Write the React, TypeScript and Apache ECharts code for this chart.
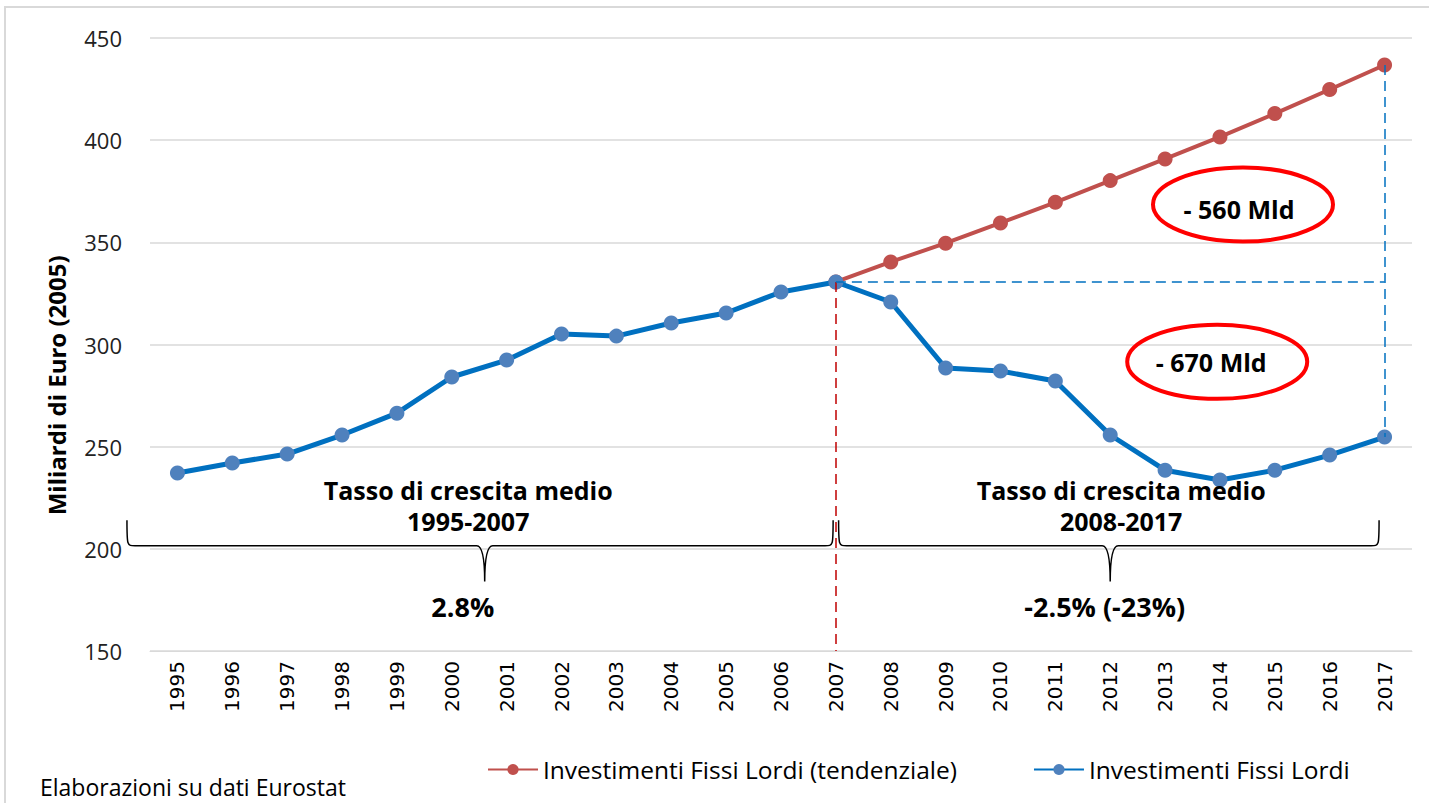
import React, { useEffect, useRef } from "react";
import * as echarts from "echarts";

const years = ["1995","1996","1997","1998","1999","2000","2001","2002","2003","2004","2005","2006","2007","2008","2009","2010","2011","2012","2013","2014","2015","2016","2017"];
const investimenti = [237.1, 242.0, 246.4, 255.7, 266.4, 284.1, 292.4, 305.1, 304.1, 310.5, 315.4, 325.7, 330.6, 320.8, 288.5, 287.0, 282.1, 255.7, 238.5, 233.7, 238.5, 245.9, 254.7];
const tendenziale = [null, null, null, null, null, null, null, null, null, null, null, null, 330.6, 340.4, 349.6, 359.5, 369.6, 380.2, 390.8, 401.6, 413.0, 424.8, 436.8];
const yTicks = { min: 150, max: 450, interval: 50 };
const seriesNames = ["Investimenti Fissi Lordi (tendenziale)", "Investimenti Fissi Lordi"];
const yAxisName = "Miliardi di Euro (2005)";
const braceTexts = [
  { title: "Tasso di crescita medio", period: "1995-2007", rate: "2.8%" },
  { title: "Tasso di crescita medio", period: "2008-2017", rate: "-2.5% (-23%)" },
];
const gapLabels = ["- 560 Mld", "- 670 Mld"];
const sourceNote = "Elaborazioni su dati Eurostat";

export default function App() {
  const ref = useRef<HTMLDivElement>(null);
  useEffect(() => {
    document.body.style.margin = "0";
    const chart = echarts.init(ref.current!, null, { renderer: "svg" });
    const i2007 = years.indexOf("2007");
    const i2017 = years.indexOf("2017");
    chart.setOption({
      animation: false,
      backgroundColor: "#ffffff",
      grid: { left: 150, right: 17, top: 38, bottom: 152, containLabel: false },
      legend: {
        left: 487,
        top: 757,
        padding: 0,
        itemWidth: 50,
        itemHeight: 14,
        itemGap: 76,
        textStyle: { fontFamily: "Open Sans", fontSize: 24.5, color: "#000" },
        data: seriesNames,
      },
      xAxis: {
        type: "category",
        data: years,
        boundaryGap: true,
        axisLine: { show: true, lineStyle: { color: "#d9d9d9", width: 1 } },
        axisTick: { show: false },
        axisLabel: { rotate: 90, margin: 10, fontFamily: "DejaVu Sans, sans-serif", fontSize: 20, color: "#000" },
      },
      yAxis: {
        type: "value",
        min: yTicks.min,
        max: yTicks.max,
        interval: yTicks.interval,
        axisLine: { show: false },
        axisTick: { show: false },
        axisLabel: { margin: 28, fontFamily: "Open Sans", fontSize: 22, color: "#222" },
        splitLine: { lineStyle: { color: "#d9d9d9", width: 1.5 } },
      },
      series: [
        {
          name: seriesNames[0],
          type: "line",
          data: tendenziale,
          symbol: "circle",
          symbolSize: 15,
          lineStyle: { color: "#c0504d", width: 4 },
          itemStyle: { color: "#c0504d" },
          z: 2,
        },
        {
          name: seriesNames[1],
          type: "line",
          data: investimenti,
          symbol: "circle",
          symbolSize: 15,
          lineStyle: { color: "#0070c0", width: 5 },
          itemStyle: { color: "#4f81bd" },
          z: 3,
          markLine: {
            silent: true,
            symbol: "none",
            label: { show: false },
            data: [
              [
                { coord: [i2007, investimenti[i2007]], lineStyle: { color: "#c00000", type: [10, 6], width: 1.5 } },
                { coord: [i2007, yTicks.min] },
              ],
              [
                { coord: [i2007, investimenti[i2007]], lineStyle: { color: "#0070c0", type: [10, 6], width: 1.5 } },
                { coord: [i2017 - 0.25, investimenti[i2007]] },
              ],
              [
                { coord: [i2017 - 0.1, tendenziale[i2017]], lineStyle: { color: "#0070c0", type: [10, 6], width: 1.5 } },
                { coord: [i2017 - 0.1, investimenti[i2017]] },
              ],
            ],
          },
        },
      ],
    });

    const px = (i: number, v: number) => {
      const p0 = chart.convertToPixel({ gridIndex: 0 }, [0, v]) as number[];
      const p1 = chart.convertToPixel({ gridIndex: 0 }, [1, v]) as number[];
      return [p0[0] + (p1[0] - p0[0]) * i, p0[1]];
    };

    const bracePath = (x0: number, xm: number, x1: number, yTop: number, yLine: number, yBot: number) => {
      const r = 8;
      return `M${x0},${yTop} C${x0},${yLine} ${x0},${yLine} ${x0 + r},${yLine} L${xm - r},${yLine} Q${xm},${yLine} ${xm},${yBot} Q${xm},${yLine} ${xm + r},${yLine} L${x1 - r},${yLine} C${x1},${yLine} ${x1},${yLine} ${x1},${yTop}`;
    };

    const yTop = px(0, 214)[1];
    const yLine = px(0, 201.5)[1];
    const yBot = px(0, 184)[1];
    const leftX0 = px(-0.92, 200)[0];
    const leftXm = px(5.6, 200)[0];
    const leftX1 = px(i2007 - 0.05, 200)[0];
    const rightX0 = px(i2007 + 0.05, 200)[0];
    const rightXm = px(17, 200)[0];
    const rightX1 = px(i2017 - 0.1, 200)[0];

    echarts.graphic.registerShape("braceLeft", echarts.graphic.extendPath(bracePath(leftX0, leftXm, leftX1, yTop, yLine, yBot), {}) as any);
    echarts.graphic.registerShape("braceRight", echarts.graphic.extendPath(bracePath(rightX0, rightXm, rightX1, yTop, yLine, yBot), {}) as any);

    const boldFont = "bold 25px 'Open Sans'";
    const rateFont = "bold 27px 'Open Sans'";
    const txt = (x: number, y: number, text: string, font = boldFont) => ({
      type: "text",
      x,
      y,
      style: { text, font, fill: "#000", align: "center", verticalAlign: "middle" },
      z: 10,
    });

    const e1 = px(19.42, 368.5);
    const e2 = px(18.95, 291.5);
    const t1a = px(5.3, 229)[1];
    const t1b = px(5.3, 213.5)[1];
    const rateY = px(0, 172)[1];
    const nameY = px(0, 280)[1];

    chart.setOption({
      graphic: [
        { type: "rect", shape: { x: 5, y: 7, width: 1440, height: 820 }, style: { fill: "none", stroke: "#d9d9d9", lineWidth: 2 }, z: 0, silent: true },
        { type: "braceLeft", x: 0, y: 0, style: { fill: "none", stroke: "#000", lineWidth: 1.5 }, z: 5 },
        { type: "braceRight", x: 0, y: 0, style: { fill: "none", stroke: "#000", lineWidth: 1.5 }, z: 5 },
        {
          type: "text",
          x: 56,
          y: nameY,
          rotation: Math.PI / 2,
          style: { text: yAxisName, font: "bold 24px 'Open Sans'", fill: "#000", align: "center", verticalAlign: "middle" },
          z: 10,
        },
        txt(px(5.3, 0)[0], t1a, braceTexts[0].title),
        txt(px(5.3, 0)[0], t1b, braceTexts[0].period),
        txt(px(5.2, 0)[0], rateY, braceTexts[0].rate, rateFont),
        txt(px(17.2, 0)[0], t1a, braceTexts[1].title),
        txt(px(17.2, 0)[0], t1b, braceTexts[1].period),
        txt(px(16.9, 0)[0], rateY, braceTexts[1].rate, rateFont),
        { type: "ellipse", shape: { cx: e1[0], cy: e1[1], rx: 90, ry: 37 }, style: { fill: "none", stroke: "#ff0000", lineWidth: 4 }, z: 8 },
        { type: "ellipse", shape: { cx: e2[0], cy: e2[1], rx: 90, ry: 37 }, style: { fill: "none", stroke: "#ff0000", lineWidth: 4 }, z: 8 },
        txt(e1[0] - 4, e1[1] + 4, gapLabels[0]),
        txt(e2[0] - 6, e2[1], gapLabels[1]),
        { type: "text", x: 40, y: 787, style: { text: sourceNote, font: "23px 'Open Sans'", fill: "#000", align: "left", verticalAlign: "middle" }, z: 10 },
      ],
    });
    return () => chart.dispose();
  }, []);
  return <div ref={ref} style={{ position: "absolute", left: 0, top: 0, width: 1429, height: 803 }} />;
}
